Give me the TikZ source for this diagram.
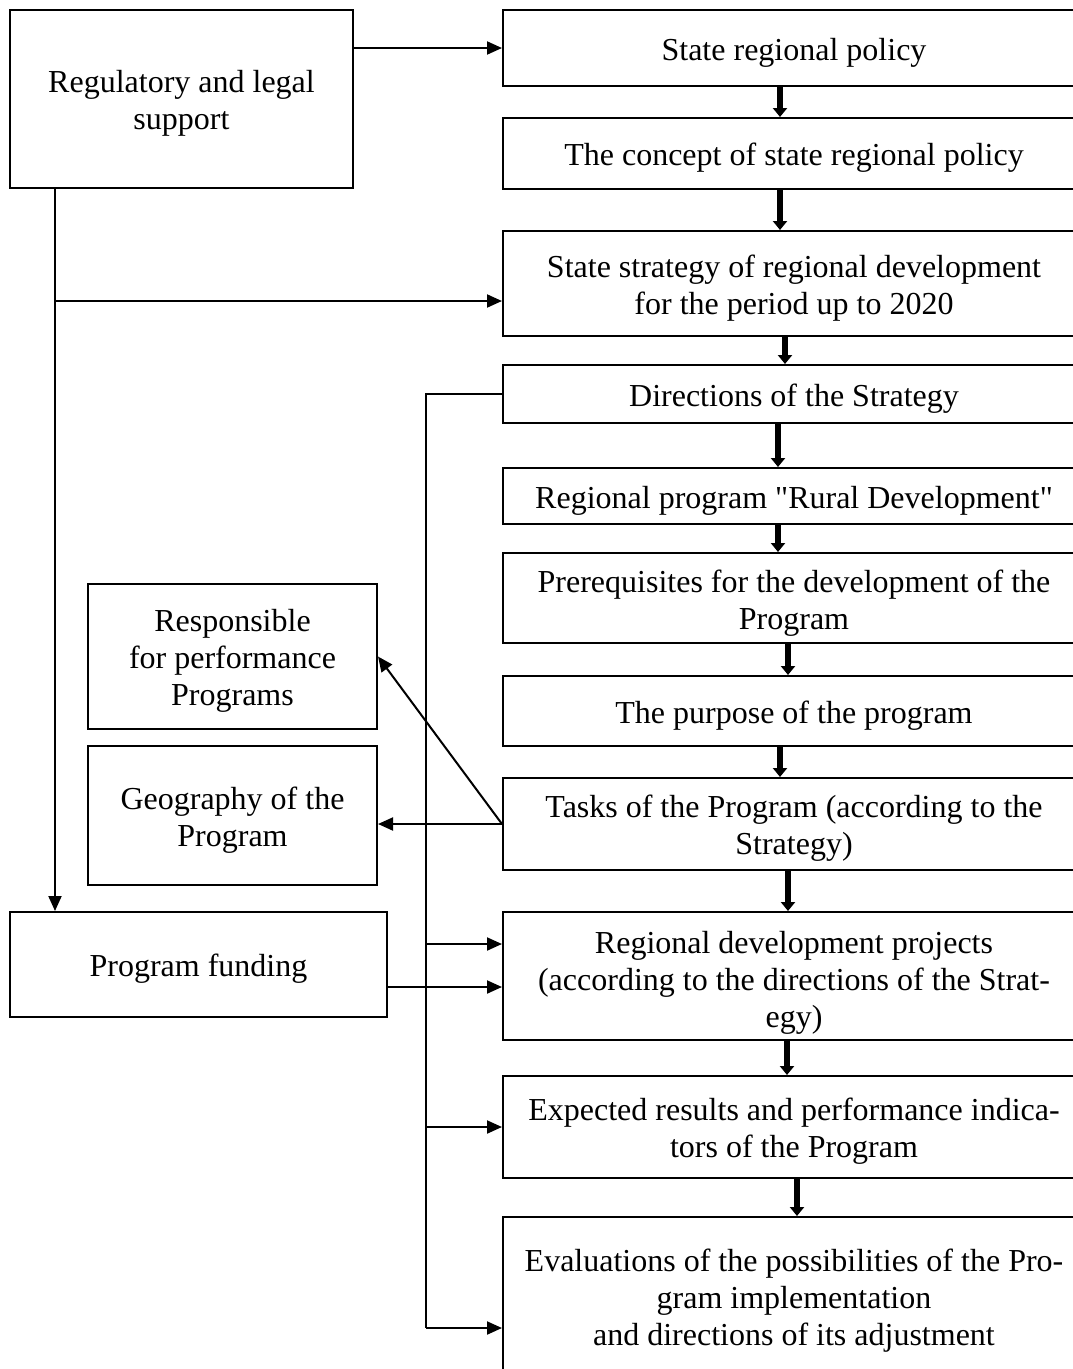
\documentclass[tikz,border=0pt]{standalone}
\usepackage{fontspec}
\setmainfont{Liberation Serif}[Ligatures=TeXOff]
\usetikzlibrary{arrows.meta}
\newcommand{\lowtext}[2][5pt]{\raisebox{-#1}[\height][\depth]{\begin{tabular}{@{}c@{}}#2\end{tabular}}}
\begin{document}
\begin{tikzpicture}[x=1pt,y=-1pt,
  box/.style={draw, line width=2pt, align=center, inner sep=0pt, font=\fontsize{32}{37}\selectfont},
  rbox/.style={box, minimum width=582pt},
  tarrow/.style={line width=2pt, -{Triangle[length=15pt,width=13pt]}},
  karrow/.style={line width=6pt, -{Triangle[length=9pt,width=14pt]}},
  fine/.style={line width=1.2pt}]
\clip (0,0) rectangle (1073,1369);
\fill[white] (0,0) rectangle (1073,1369);
% right column
\node[rbox, minimum height=76pt] (srp) at (794,48) {\lowtext{State regional policy}};
\node[rbox, minimum height=71pt] (concept) at (794,153.5) {\lowtext{The concept of state regional policy}};
\node[rbox, minimum height=105pt] (strat) at (794,283.5) {\lowtext{State strategy of regional development\\for the period up to 2020}};
\node[rbox, minimum height=58pt] (dir) at (794,394) {\lowtext{Directions of the Strategy}};
\node[rbox, minimum height=56pt] (rural) at (794,496) {\lowtext{Regional program "Rural Development"}};
\node[rbox, minimum height=90pt] (prereq) at (794,598) {\lowtext[6pt]{Prerequisites for the development of the\\Program}};
\node[rbox, minimum height=70pt] (purpose) at (794,711) {\lowtext{The purpose of the program}};
\node[rbox, minimum height=92pt] (tasks) at (794,824) {\lowtext{Tasks of the Program (according to the\\Strategy)}};
\node[rbox, minimum height=128pt] (proj) at (794,976) {\lowtext[7pt]{Regional development projects\\(according to the directions of the Strat-\\egy)}};
\node[rbox, minimum height=102pt] (expect) at (794,1127) {\lowtext{Expected results and performance indica-\\tors of the Program}};
\node[rbox, minimum height=160pt] (eval) at (794,1297) {\lowtext[4pt]{Evaluations of the possibilities of the Pro-\\gram implementation\\and directions of its adjustment}};
% left column
\node[box, minimum width=343pt, minimum height=178pt] (reg) at (181.5,99) {\lowtext{Regulatory and legal\\support}};
\node[box, minimum width=289pt, minimum height=145pt] (resp) at (232.5,656.5) {\lowtext{Responsible\\for performance\\Programs}};
\node[box, minimum width=289pt, minimum height=139pt] (geo) at (232.5,815.5) {\lowtext{Geography of the\\Program}};
\node[box, minimum width=377pt, minimum height=105pt] (fund) at (198.5,964.5) {\lowtext{Program funding}};
% thick arrows
\draw[karrow] ([xshift=-14pt]srp.south) -- ([xshift=-14pt]concept.north);
\draw[karrow] ([xshift=-14pt]concept.south) -- ([xshift=-14pt]strat.north);
\draw[karrow] ([xshift=-9pt]strat.south) -- ([xshift=-9pt]dir.north);
\draw[karrow] ([xshift=-16pt]dir.south) -- ([xshift=-16pt]rural.north);
\draw[karrow] ([xshift=-16pt]rural.south) -- ([xshift=-16pt]prereq.north);
\draw[karrow] ([xshift=-6pt]prereq.south) -- ([xshift=-6pt]purpose.north);
\draw[karrow] ([xshift=-14pt]purpose.south) -- ([xshift=-14pt]tasks.north);
\draw[karrow] ([xshift=-6pt]tasks.south) -- ([xshift=-6pt]proj.north);
\draw[karrow] ([xshift=-7pt]proj.south) -- ([xshift=-7pt]expect.north);
\draw[karrow] ([xshift=3pt]expect.south) -- ([xshift=3pt]eval.north);
% regulatory connectors
\draw[tarrow] (srp.west -| reg.east) -- (srp.west);
\coordinate (vt) at (55,188);
\coordinate (vb) at (55,301);
\draw[tarrow] (vt) -- (vt |- fund.north);
\draw[tarrow] (vb) -- (vb -| strat.west);
% tasks connectors
\draw[tarrow] (tasks.west) -- (resp.east);
\draw[tarrow] (tasks.west) -- (tasks.west -| geo.east);
% funding
\draw[tarrow] ([yshift=-22.5pt]fund.east) -- ([yshift=-22.5pt]fund.east -| proj.west);
% thin feedback line
\coordinate (lt) at (426,394);
\coordinate (lb) at (426,1328);
\coordinate (b1) at (426,944);
\coordinate (b2) at (426,1127);
\draw[fine] (dir.west) -- (lt) -- (lb);
\draw[tarrow] (b1) -- (b1 -| proj.west);
\draw[tarrow] (b2) -- (b2 -| expect.west);
\draw[tarrow] (lb) -- (lb -| eval.west);
\end{tikzpicture}
\end{document}
